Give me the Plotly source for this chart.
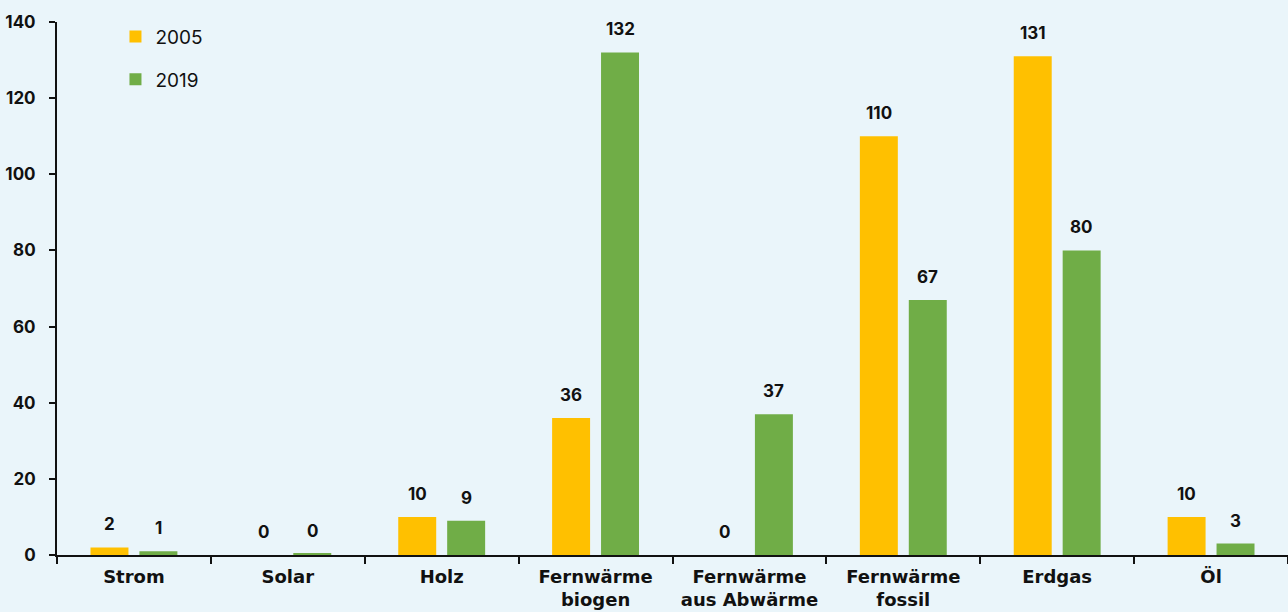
import plotly.graph_objects as go

categories = ["Strom", "Solar", "Holz", "Fernwärme<br>biogen", "Fernwärme<br>aus Abwärme",
              "Fernwärme<br>fossil", "Erdgas", "Öl"]
values_2005 = [2, 0, 10, 36, 0, 110, 131, 10]
values_2019 = [1, 0.3, 9, 132, 37, 67, 80, 3]
series_names = ["2005", "2019"]
colors = ["#FFC000", "#70AD47"]
y_ticks = [0, 20, 40, 60, 80, 100, 120, 140]

FONT = "Inter"
XFONT = "DejaVu Sans"
bg = "#EAF5FA"

fig = go.Figure()
for name, vals, col in zip(series_names, [values_2005, values_2019], colors):
    fig.add_trace(go.Bar(
        x=categories, y=vals, name=name, marker=dict(color=col, line=dict(width=0)),
        legendgroup=name,
    ))

# value labels
for vals, shift in zip([values_2005, values_2019], [-24.5, 24.5]):
    for c, v in zip(categories, vals):
        fig.add_annotation(x=c, y=v, text=str(int(round(v))), showarrow=False,
                           xshift=shift, yshift=23, xref="x", yref="y",
                           font=dict(family=FONT, size=17, color="#111111", weight=700))

fig.update_layout(
    width=1288, height=612,
    margin=dict(l=57, r=0, t=22, b=57),
    paper_bgcolor=bg, plot_bgcolor=bg,
    barmode="group", bargap=0.364, bargroupgap=0.224,
    font=dict(family=FONT, color="#111111"),
    legend=dict(x=0.0475, y=1.008, xanchor="left", yanchor="top",
                bgcolor="rgba(0,0,0,0)", tracegroupgap=15,
                font=dict(family=FONT, size=19, color="#111111"),
                itemwidth=30),
    showlegend=True,
)
fig.update_xaxes(
    showline=True, linecolor="#111111", linewidth=2,
    ticks="outside", tickson="boundaries", ticklen=7, tickcolor="#111111", tickwidth=1.5,
    tickfont=dict(family=XFONT, size=18, color="#111111", weight=700),
    showgrid=False, ticklabelstandoff=4,
)
fig.update_yaxes(
    range=[0, 140], tickvals=y_ticks,
    showline=True, linecolor="#111111", linewidth=2,
    ticks="outside", ticklen=6, tickcolor="#111111", tickwidth=1.5,
    tickfont=dict(family=FONT, size=17, color="#111111", weight=700),
    showgrid=False, zeroline=False, ticklabelstandoff=10,
)

fig.write_html("out.html")
